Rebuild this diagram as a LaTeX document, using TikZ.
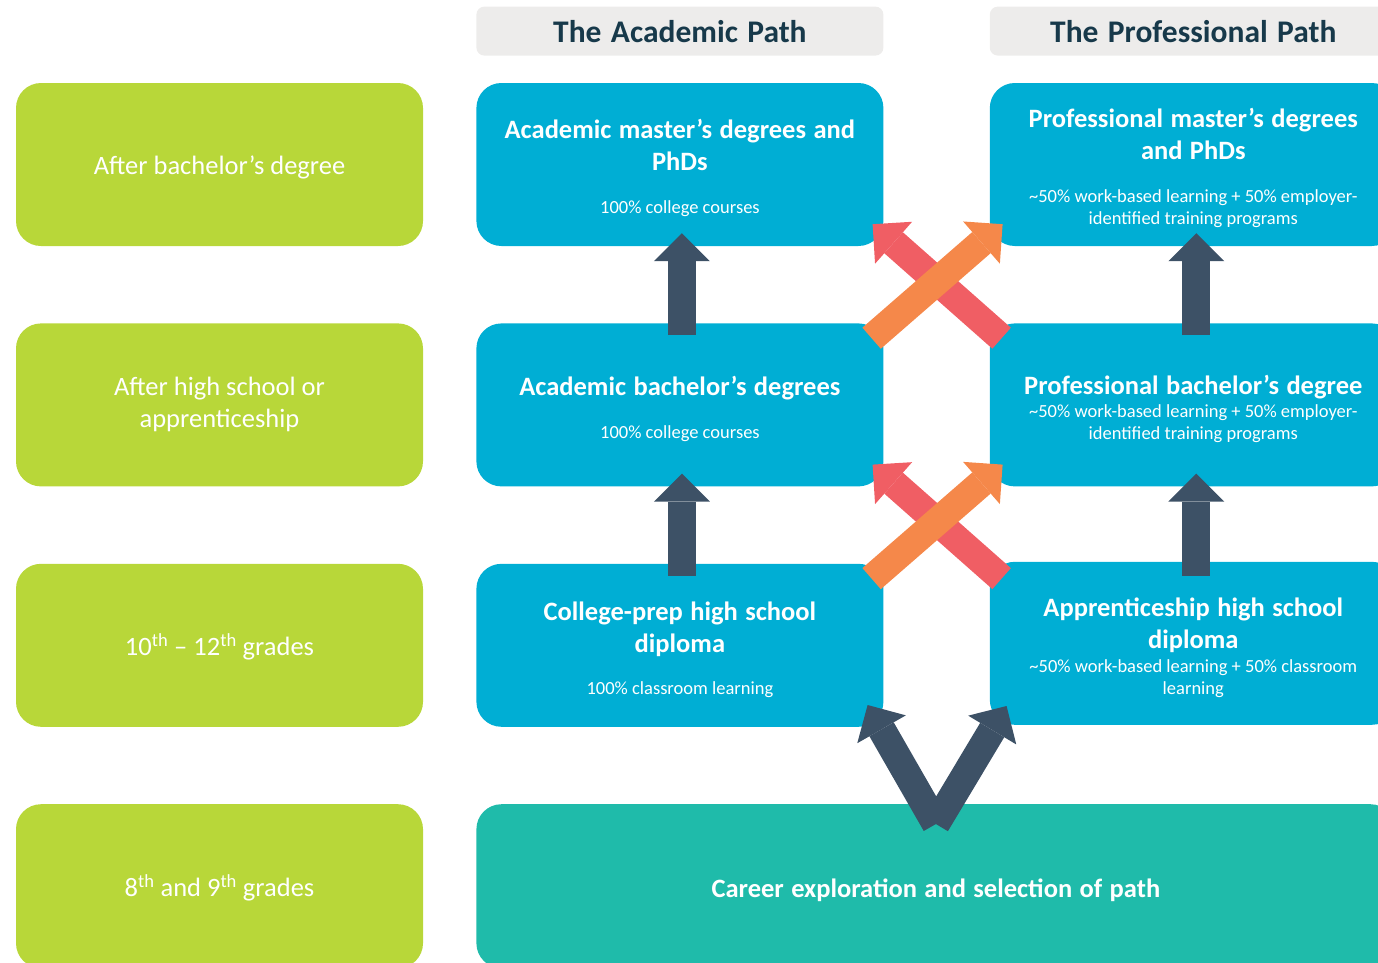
\documentclass[tikz,border=0pt]{standalone}
\usepackage{fontspec}
\setmainfont{Carlito}
\usepackage{tikz}
\usetikzlibrary{positioning,arrows.meta}

\definecolor{leafgreen}{HTML}{B8D739}
\definecolor{pathblue}{HTML}{00AED4}
\definecolor{careerteal}{HTML}{1FBBAA}
\definecolor{slate}{HTML}{3D5166}
\definecolor{coral}{HTML}{F05E64}
\definecolor{tangerine}{HTML}{F5884A}
\definecolor{headgray}{HTML}{EDECEB}
\definecolor{headtext}{HTML}{17394A}

\newcommand{\headfont}{\fontsize{31.5}{36}\selectfont\bfseries\spaceskip=.3em\relax}
\newcommand{\boxtitle}[1]{{\fontsize{26.5}{32}\selectfont\bfseries\spaceskip=.28em\relax #1\par}}
\newcommand{\boxnote}[1]{{\fontsize{18.5}{22}\selectfont #1\par}}

\begin{document}
\begin{tikzpicture}[
			x=1pt, y=-1pt,
			stagebox/.style={rectangle, rounded corners=25pt, fill=leafgreen, minimum width=407pt, minimum height=163pt, inner sep=0pt, text=white, align=center, font=\fontsize{26.5}{32}\selectfont, execute at begin node={\rule{0pt}{24.5pt}}},
			pathbox/.style={rectangle, rounded corners=25pt, fill=pathblue, minimum width=407pt, minimum height=163pt, inner sep=0pt, text=white, text width=395pt, align=flush center, execute at begin node={\rule{0pt}{27pt}}},
			headbox/.style={rectangle, rounded corners=8pt, fill=headgray, minimum width=407pt, minimum height=49pt, inner sep=0pt, text=headtext, font=\headfont},
			fatarrow/.style={line width=28pt, -{Triangle[width=56pt, length=28pt, line width=0pt]}},
			node distance=77pt and 53pt,
		]
		
			\useasboundingbox (0,0) rectangle (1378,962);
			\clip (0,0) rectangle (1378,962);
		
			%Nodes
			\node[stagebox]		(g1) at (219.5,164.5)	{After bachelor’s degree};
			\node[stagebox]		(g2)[below=of g1]	{After high school or\\apprenticeship};
			\node[stagebox]		(g3)[below=of g2]	{10\textsuperscript{th} – 12\textsuperscript{th} grades};
			\node[stagebox, minimum height=164pt]	(g4)[below=of g3]	{8\textsuperscript{th} and 9\textsuperscript{th} grades};
		
			\node[pathbox]		(a1)[right=of g1]	{\boxtitle{Academic master’s degrees and\\PhDs}\vspace{21pt}\boxnote{100\% college courses}};
			\node[pathbox]		(a2)[below=of a1]	{\boxtitle{Academic bachelor’s degrees}\vspace{21pt}\boxnote{100\% college courses}};
			\node[pathbox]		(a3)[below=of a2]	{\boxtitle{College-prep high school\\diploma}\vspace{20pt}\boxnote{100\% classroom learning}};
		
			\node[pathbox]		(p1)[right=106pt of a1]	{\boxtitle{Professional master’s degrees\\and PhDs}\vspace{21pt}\boxnote{\textasciitilde 50\% work-based learning + 50\% employer-\\identified training programs}};
			\node[pathbox]		(p2)[below=of p1]	{\boxtitle{Professional bachelor’s degree}\vspace{1pt}\boxnote{\textasciitilde 50\% work-based learning + 50\% employer-\\identified training programs}};
			\node[pathbox]		(p3)[below=75pt of p2]	{\boxtitle{Apprenticeship high school\\diploma}\vspace{2pt}\boxnote{\textasciitilde 50\% work-based learning + 50\% classroom\\learning}};
		
			\node[pathbox, fill=careerteal, minimum width=919pt, minimum height=164pt, text width=900pt]	(career)[below right=77pt and 0pt of a3.south west]	{\boxtitle{Career exploration and selection of path}};
		
			\node[headbox]		(ahead)[above=27pt of a1]	{The Academic Path};
			\node[headbox]		(phead)[above=27pt of p1]	{The Professional Path};
		
			%Lines
			\draw[fatarrow, slate]	([xshift=2pt,yshift=-12pt]a2.north) -- ([xshift=2pt,yshift=13pt]a1.south);
			\draw[fatarrow, slate]	([xshift=2pt,yshift=-12pt]a3.north) -- ([xshift=2pt,yshift=13pt]a2.south);
			\draw[fatarrow, slate]	([xshift=3pt,yshift=-12pt]p2.north) -- ([xshift=3pt,yshift=13pt]p1.south);
			\draw[fatarrow, slate]	([xshift=3pt,yshift=-14pt]p3.north) -- ([xshift=3pt,yshift=13pt]p2.south);
		
			\draw[fatarrow, coral]	([xshift=12pt,yshift=-15pt]p2.north west) -- ([xshift=-11pt,yshift=22pt]a1.south east);
			\draw[fatarrow, tangerine]	([xshift=-12pt,yshift=-15pt]a2.north east) -- ([xshift=13pt,yshift=22pt]p1.south west);
			\draw[fatarrow, coral]	([xshift=12pt,yshift=-17pt]p3.north west) -- ([xshift=-11pt,yshift=22pt]a2.south east);
			\draw[fatarrow, tangerine]	([xshift=-12pt,yshift=-15pt]a3.north east) -- ([xshift=13pt,yshift=22pt]p2.south west);
		
			\coordinate (vbase) at ([yshift=-20pt]career.north);
			\draw[fatarrow, slate]	(vbase) -- ([xshift=-16pt,yshift=22pt]a3.south east);
			\draw[fatarrow, slate]	(vbase) -- ([xshift=17pt,yshift=19pt]p3.south west);
		
		\end{tikzpicture}
\end{document}
